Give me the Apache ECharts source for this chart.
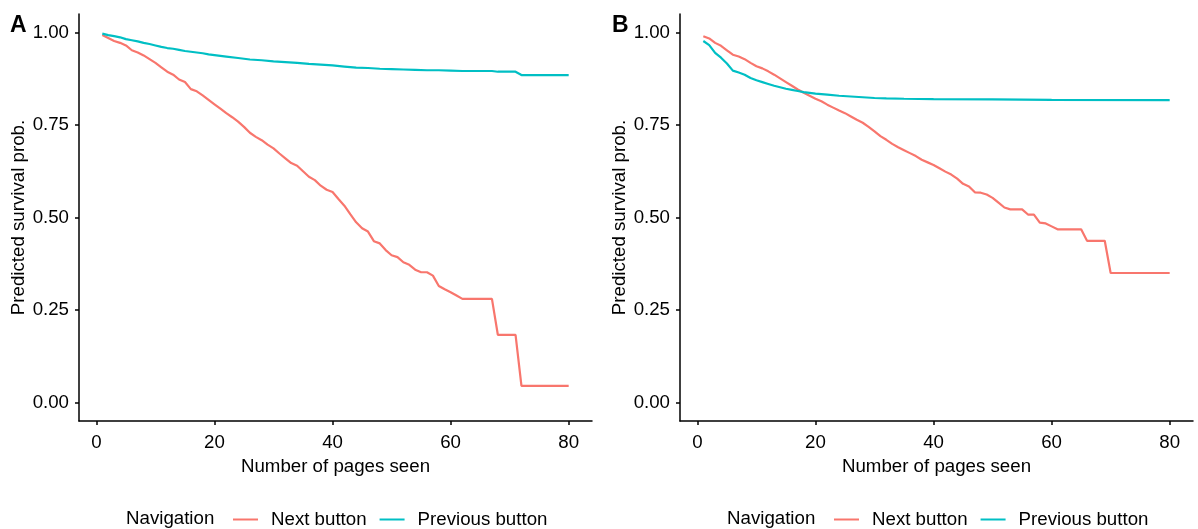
<!DOCTYPE html>
<html lang="en">
  <head>
    <meta charset="UTF-8" />
    <title>Predicted survival</title>
    <script src="https://cdn.jsdelivr.net/npm/echarts@6/dist/echarts.min.js"></script>
    <style>
      html, body { margin: 0; padding: 0; background: #fff; }
      .echarts { width: 1198px; height: 529px; }
    </style>
  </head>
  <body>
    <div class="echarts"></div>
    <script>
      // tick labels
      const xTicks = [0, 20, 40, 60, 80]
      const yTicks = [0, 0.25, 0.5, 0.75, 1]
      const seriesNames = ['Next button', 'Previous button']
      const colors = ['#F8766D', '#00BFC4']

      // panel A: [pages seen, predicted survival prob.]
      const nextA = [
        [1, 0.993], [2, 0.985], [3, 0.977], [4, 0.972], [5, 0.965], [6, 0.952], [7, 0.946], [8, 0.938],
        [9, 0.928], [10, 0.918], [11, 0.906], [12, 0.894], [13, 0.886], [14, 0.873], [15, 0.866], [16, 0.847],
        [17, 0.841], [18, 0.830], [19, 0.818], [20, 0.806], [21, 0.794], [22, 0.782], [23, 0.771], [24, 0.759],
        [25, 0.745], [26, 0.729], [27, 0.718], [28, 0.709], [29, 0.697], [30, 0.687], [31, 0.673], [32, 0.660],
        [33, 0.647], [34, 0.640], [35, 0.625], [36, 0.610], [37, 0.601], [38, 0.586], [39, 0.575], [40, 0.569],
        [41, 0.550], [42, 0.532], [43, 0.509], [44, 0.487], [45, 0.471], [46, 0.462], [47, 0.436], [48, 0.430],
        [49, 0.412], [50, 0.398], [51, 0.393], [52, 0.379], [53, 0.372], [54, 0.359], [55, 0.352], [56, 0.352],
        [57, 0.343], [58, 0.315], [59, 0.306], [60, 0.298], [61, 0.289], [62, 0.280], [67, 0.280], [68, 0.183],
        [71, 0.183], [72, 0.045], [80, 0.045]
      ]
      const prevA = [
        [1, 0.997], [2, 0.993], [3, 0.990], [4, 0.987], [5, 0.982], [6, 0.979], [7, 0.976], [8, 0.972],
        [9, 0.969], [10, 0.965], [11, 0.961], [12, 0.958], [13, 0.956], [14, 0.953], [15, 0.950], [16, 0.948],
        [17, 0.946], [18, 0.944], [19, 0.941], [20, 0.939], [22, 0.935], [24, 0.931], [26, 0.927], [28, 0.925],
        [30, 0.922], [32, 0.920], [34, 0.918], [36, 0.915], [38, 0.913], [40, 0.911], [42, 0.908], [44, 0.905],
        [46, 0.904], [48, 0.902], [50, 0.901], [52, 0.900], [54, 0.899], [56, 0.898], [58, 0.898], [60, 0.897],
        [62, 0.896], [67, 0.896], [68, 0.894], [71, 0.894], [72, 0.885], [80, 0.885]
      ]

      // panel B
      const nextB = [
        [1, 0.990], [2, 0.984], [3, 0.972], [4, 0.964], [5, 0.952], [6, 0.940], [7, 0.935], [8, 0.928],
        [9, 0.918], [10, 0.909], [11, 0.903], [12, 0.895], [13, 0.886], [14, 0.876], [15, 0.866], [16, 0.856],
        [17, 0.846], [18, 0.837], [19, 0.829], [20, 0.821], [21, 0.814], [22, 0.805], [23, 0.797], [24, 0.789],
        [25, 0.782], [26, 0.773], [27, 0.764], [28, 0.756], [29, 0.745], [30, 0.733], [31, 0.720], [32, 0.710],
        [33, 0.699], [34, 0.690], [35, 0.682], [36, 0.674], [37, 0.666], [38, 0.656], [39, 0.649], [40, 0.642],
        [41, 0.633], [42, 0.624], [43, 0.616], [44, 0.605], [45, 0.591], [46, 0.584], [47, 0.568], [48, 0.567],
        [49, 0.562], [50, 0.553], [51, 0.540], [52, 0.527], [53, 0.522], [55, 0.522], [56, 0.508], [57, 0.508],
        [58, 0.486], [59, 0.484], [60, 0.476], [61, 0.468], [65, 0.468], [66, 0.437], [69, 0.437], [70, 0.350],
        [80, 0.350]
      ]
      const prevB = [
        [1, 0.977], [2, 0.966], [3, 0.945], [4, 0.932], [5, 0.916], [6, 0.897], [7, 0.892], [8, 0.886],
        [9, 0.877], [10, 0.871], [11, 0.866], [12, 0.861], [13, 0.856], [14, 0.852], [15, 0.848], [16, 0.845],
        [17, 0.842], [18, 0.839], [19, 0.837], [20, 0.835], [22, 0.832], [24, 0.829], [26, 0.827], [28, 0.825],
        [30, 0.823], [32, 0.822], [35, 0.821], [40, 0.820], [50, 0.819], [60, 0.818], [80, 0.817]
      ]

      const font = 'Liberation Sans'
      const fs = 18.7

      function xAxis(i) {
        return {
          type: 'value', gridIndex: i,
          min: -2.95, max: 83.95,
          name: 'Number of pages seen', nameLocation: 'middle', nameGap: 35,
          nameTextStyle: { fontFamily: font, fontSize: fs, color: '#000' },
          axisLine: { onZero: false, lineStyle: { color: '#000', width: 1.5 } },
          axisTick: { customValues: xTicks, length: 4, lineStyle: { color: '#000', width: 1.5 } },
          axisLabel: { customValues: xTicks, margin: 12, fontFamily: font, fontSize: fs, color: '#000' },
          splitLine: { show: false }
        }
      }
      function yAxis(i) {
        return {
          type: 'value', gridIndex: i,
          min: -0.05, max: 1.05,
          name: 'Predicted survival prob.', nameLocation: 'middle', nameGap: 49,
          nameTextStyle: { fontFamily: font, fontSize: fs, color: '#000' },
          axisLine: { show: true, onZero: false, lineStyle: { color: '#000', width: 1.5 } },
          axisTick: { show: true, customValues: yTicks, length: 4, lineStyle: { color: '#000', width: 1.5 } },
          axisLabel: {
            customValues: yTicks, margin: 10, fontFamily: font, fontSize: fs, color: '#000',
            formatter: v => v.toFixed(2)
          },
          splitLine: { show: false }
        }
      }
      function line(name, data, i, color) {
        return {
          type: 'line', name: name, data: data,
          xAxisIndex: i, yAxisIndex: i,
          symbol: 'none', color: color,
          lineStyle: { width: 2.2, color: color }
        }
      }
      function legend(left) {
        return {
          left: left, top: 505,
          data: seriesNames,
          icon: 'rect', itemWidth: 25, itemHeight: 2, itemGap: 13,
          textStyle: { fontFamily: font, fontSize: fs, color: '#000', padding: [0, 0, 0, 8] }
        }
      }
      function label(text, x, y, bold, size) {
        return {
          type: 'text', left: x, top: y,
          style: { text: text, fill: '#000', font: (bold ? 'bold ' : '') + size + 'px ' + font }
        }
      }

      const myCharts = echarts.init(document.querySelector('.echarts'))
      const option = {
        animation: false,
        grid: [
          { left: 79, top: 14, width: 513, height: 407 },
          { left: 680, top: 14, width: 513, height: 407 }
        ],
        xAxis: [xAxis(0), xAxis(1)],
        yAxis: [yAxis(0), yAxis(1)],
        legend: [legend(228), legend(829)],
        graphic: [
          label('A', 10, 14, true, 23),
          label('B', 612, 14, true, 23),
          label('Navigation', 126, 509, false, fs),
          label('Navigation', 727, 509, false, fs)
        ],
        series: [
          line(seriesNames[0], nextA, 0, colors[0]),
          line(seriesNames[1], prevA, 0, colors[1]),
          line(seriesNames[0], nextB, 1, colors[0]),
          line(seriesNames[1], prevB, 1, colors[1])
        ]
      }
      myCharts.setOption(option)
    </script>
  </body>
</html>
